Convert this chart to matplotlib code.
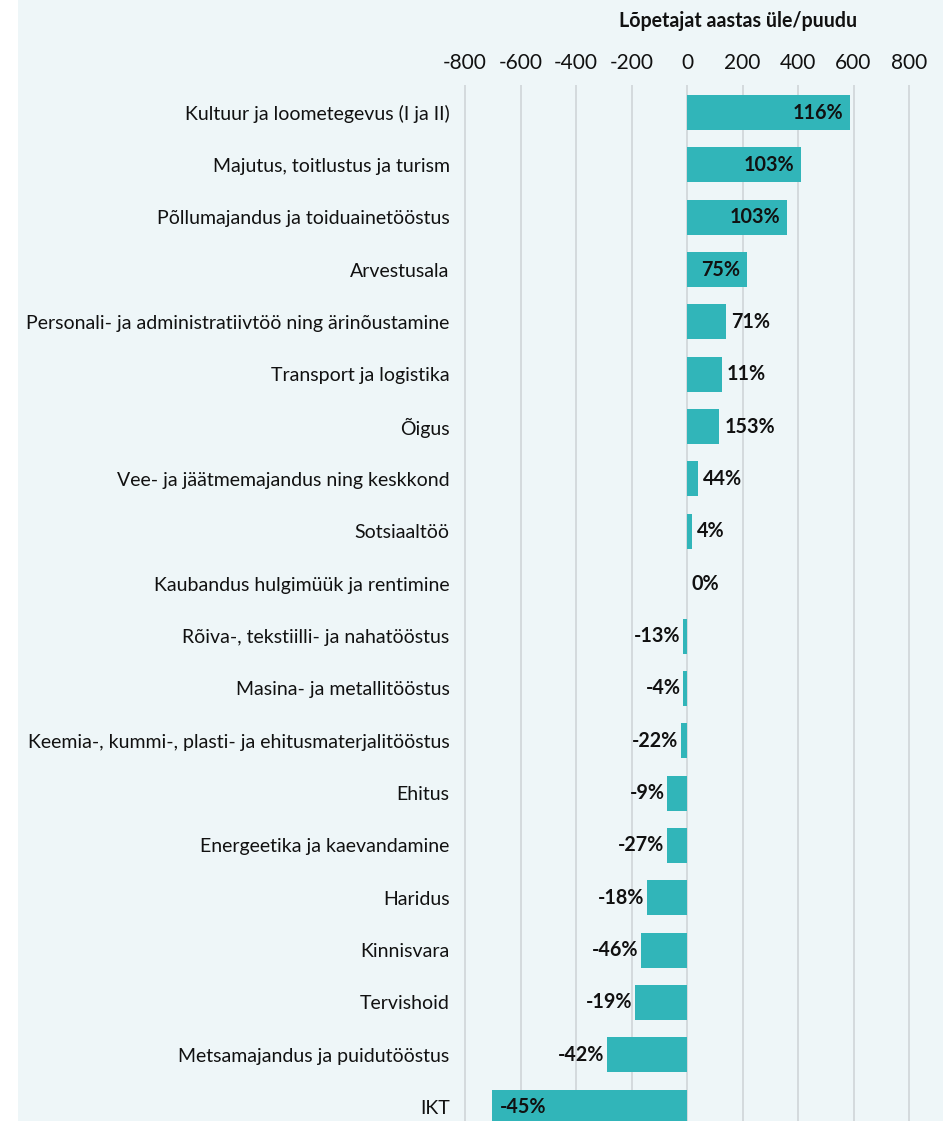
import matplotlib
matplotlib.use("Agg")
import matplotlib.pyplot as plt
from matplotlib.patches import Rectangle

categories = [
    "Kultuur ja loometegevus (I ja II)",
    "Majutus, toitlustus ja turism",
    "Põllumajandus ja toiduainetööstus",
    "Arvestusala",
    "Personali- ja administratiivtöö ning ärinõustamine",
    "Transport ja logistika",
    "Õigus",
    "Vee- ja jäätmemajandus ning keskkond",
    "Sotsiaaltöö",
    "Kaubandus hulgimüük ja rentimine",
    "Rõiva-, tekstiilli- ja nahatööstus",
    "Masina- ja metallitööstus",
    "Keemia-, kummi-, plasti- ja ehitusmaterjalitööstus",
    "Ehitus",
    "Energeetika ja kaevandamine",
    "Haridus",
    "Kinnisvara",
    "Tervishoid",
    "Metsamajandus ja puidutööstus",
    "IKT",
]
values = [588, 412, 362, 217, 141, 127, 117, 41, 17, 0,
          -13, -13, -21, -71, -71, -143, -165, -187, -288, -703]
pct_labels = ["116%", "103%", "103%", "75%", "71%", "11%", "153%", "44%", "4%", "0%",
              "-13%", "-4%", "-22%", "-9%", "-27%", "-18%", "-46%", "-19%", "-42%", "-45%"]
xticks = [-800, -600, -400, -200, 0, 200, 400, 600, 800]
title = "Lõpetajat aastas üle/puudu"

BAR = "#31b5b9"
BG = "#eef6f8"
GRID = "#d2d8db"
TXT = "#111111"
FONT = "Lato"

W, H = 949, 1121
fig = plt.figure(figsize=(W / 100, H / 100), dpi=100)
fig.patch.set_facecolor("white")
fig.add_artist(Rectangle((18 / W, 0), (943 - 18) / W, 1, transform=fig.transFigure,
                         facecolor=BG, edgecolor="none", zorder=-10))

xmin, xmax = -830, 830
ppu = (911 - 467) / 1600.0
left_px = 687 - (0 - xmin) * ppu
right_px = 687 + xmax * ppu
top_px, bot_px = 85, 1121
ax = fig.add_axes([left_px / W, 1 - bot_px / H, (right_px - left_px) / W, (bot_px - top_px) / H])
ax.set_facecolor("none")

spacing = 52.35
n = len(categories)
ypos = list(range(n))
ax.barh(ypos, values, height=35 / spacing, color=BAR, zorder=3)
ax.set_xlim(xmin, xmax)
ax.set_ylim(n - 1 + (bot_px - 1107.2) / spacing, -(112.5 - top_px) / spacing)

ax.set_xticks(xticks)
ax.set_xticklabels([str(t) for t in xticks], fontfamily=FONT, fontsize=15)
ax.xaxis.tick_top()
ax.tick_params(axis="x", length=0, pad=8.5, colors=TXT)
ax.set_yticks(ypos)
ax.set_yticklabels(categories, fontfamily=FONT, fontsize=14)
ax.tick_params(axis="y", length=0, pad=5, colors=TXT)
ax.grid(axis="x", color=GRID, linewidth=1.3, zorder=0)
for s in ax.spines.values():
    s.set_visible(False)

VFS = 14.2
for y, v, lab in zip(ypos, values, pct_labels):
    inside = v > 200 or v < -600
    if v >= 0:
        off, ha = ((-5, "right") if inside else (3.5, "left"))
    else:
        off, ha = ((6, "left") if inside else (-2, "right"))
    ax.annotate(lab, (v, y), xytext=(off, 0), textcoords="offset points",
                ha=ha, va="center", fontfamily=FONT, fontweight="bold",
                fontsize=VFS, color=TXT, zorder=4)

fig.text(738.5 / W, 1 - 21 / H, title, ha="center", va="center", fontfamily=FONT,
         fontweight="bold", fontsize=14.1, color=TXT)

fig.savefig("out.png", dpi=100, facecolor=fig.get_facecolor())
